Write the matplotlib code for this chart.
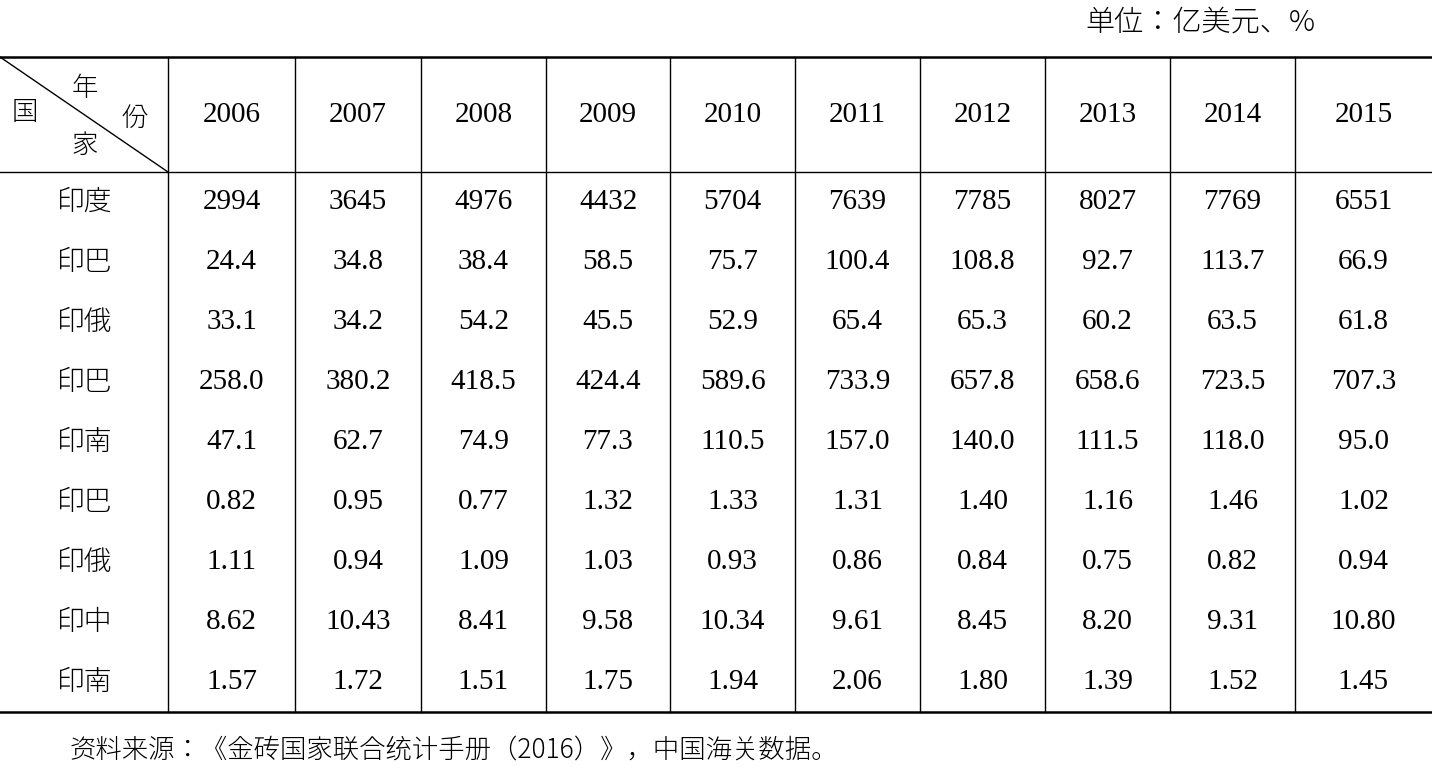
import matplotlib
matplotlib.use("Agg")
import matplotlib.pyplot as plt
from matplotlib import font_manager as fm

years = ["2006","2007","2008","2009","2010","2011","2012","2013","2014","2015"]
countries = ["印度","印巴","印俄","印巴","印南","印巴","印俄","印中","印南"]
r1 = ["2994","3645","4976","4432","5704","7639","7785","8027","7769","6551"]
r2 = ["24.4","34.8","38.4","58.5","75.7","100.4","108.8","92.7","113.7","66.9"]
r3 = ["33.1","34.2","54.2","45.5","52.9","65.4","65.3","60.2","63.5","61.8"]
r4 = ["258.0","380.2","418.5","424.4","589.6","733.9","657.8","658.6","723.5","707.3"]
r5 = ["47.1","62.7","74.9","77.3","110.5","157.0","140.0","111.5","118.0","95.0"]
r6 = ["0.82","0.95","0.77","1.32","1.33","1.31","1.40","1.16","1.46","1.02"]
r7 = ["1.11","0.94","1.09","1.03","0.93","0.86","0.84","0.75","0.82","0.94"]
r8 = ["8.62","10.43","8.41","9.58","10.34","9.61","8.45","8.20","9.31","10.80"]
r9 = ["1.57","1.72","1.51","1.75","1.94","2.06","1.80","1.39","1.52","1.45"]
rows = [r1, r2, r3, r4, r5, r6, r7, r8, r9]

# locate a CJK font file robustly
cjk_prop = None
for f in fm.findSystemFonts():
    if "CJK" in f and ("SC" in f or "Regular" in f or f.endswith(".ttc")):
        cjk_prop = fm.FontProperties(fname=f)
        if "SC" in f:
            break
if cjk_prop is None:
    cjk_prop = fm.FontProperties(family="Noto Sans CJK SC")

def cj(size):
    p = cjk_prop.copy()
    p.set_size(size)
    return p

num = "Liberation Serif"

fig = plt.figure(figsize=(14.32, 7.70), dpi=100)
ax = fig.add_axes([0, 0, 1, 1])
ax.set_xlim(0, 1432); ax.set_ylim(770, 0); ax.axis("off")

xb = [0, 168, 295, 421, 546, 670, 795, 920, 1045, 1170, 1295, 1432]
top, hbot, bot = 57, 172, 712
rh = (bot - hbot) / 9

ax.plot([0, 1432], [top, top], color="black", lw=1.8)
ax.plot([0, 1432], [hbot, hbot], color="black", lw=1.0)
ax.plot([0, 1432], [bot, bot], color="black", lw=1.8)
for x in xb[1:-1]:
    ax.plot([x, x], [top, bot], color="black", lw=1.0)
ax.plot([0, 168], [top, hbot], color="black", lw=1.0)

ax.text(1200, 22, "单位：亿美元、%", fontproperties=cj(21), ha="center", va="center")
ax.text(85, 88, "年", fontproperties=cj(19), ha="center", va="center")
ax.text(135, 118, "份", fontproperties=cj(19), ha="center", va="center")
ax.text(25, 112, "国", fontproperties=cj(19), ha="center", va="center")
ax.text(85, 145, "家", fontproperties=cj(19), ha="center", va="center")

for i, y in enumerate(years):
    cx = (xb[i + 1] + xb[i + 2]) / 2
    ax.text(cx, 115, y, fontfamily=num, fontsize=21, ha="center", va="center")

for r, (c, vals) in enumerate(zip(countries, rows)):
    cy = hbot + rh * (r + 0.5)
    ax.text(85, cy, c, fontproperties=cj(20), ha="center", va="center")
    for i, v in enumerate(vals):
        cx = (xb[i + 1] + xb[i + 2]) / 2
        ax.text(cx, cy, v, fontfamily=num, fontsize=21, ha="center", va="center")

ax.text(70, 750, "资料来源：《金砖国家联合统计手册（2016）》，中国海关数据。",
        fontproperties=cj(19), ha="left", va="center")

fig.savefig("out.png", dpi=100)
